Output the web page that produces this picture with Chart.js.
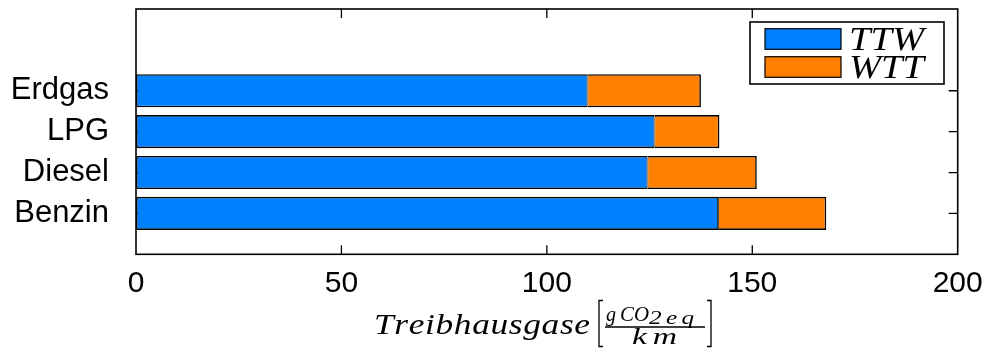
<!DOCTYPE html>
<html>
<head>
<meta charset="utf-8">
<script src="https://cdn.jsdelivr.net/npm/chart.js@4/dist/chart.umd.min.js"></script>
<style>
  html, body { margin: 0; padding: 0; background: #fff; }
  #wrap { width: 987px; height: 349px; }
</style>
</head>
<body>
<div id="wrap"><canvas id="c" width="987" height="349"></canvas></div>
<script>
// Fuel types, bottom to top, and their positions on the value axis
const categories = ['Benzin', 'Diesel', 'LPG', 'Erdgas'];
const positions = [1, 2, 3, 4];
// Greenhouse gas emissions in g CO2eq per km
const ttw = [141.7, 124.5, 126.2, 109.9];   // tank to wheel
const wtt = [26.3, 26.6, 15.8, 27.6];       // well to tank
const xTicks = [0, 50, 100, 150, 200];
const seriesLabels = ['TTW', 'WTT'];
const seriesColors = ['#0080ff', '#ff8000'];
const titleWord = 'Treibhausgase';
const unitNum = ['g', 'CO', '2eq'];
const unitDen = 'km';

const SANS = '"Liberation Sans", Arial, sans-serif';
const SERIF = '"Liberation Serif", "Times New Roman", serif';

// draws text widened to a given width: stretch glyphs a little, then spread them
function fitText(ctx, text, x, y, width, maxScale) {
  const chars = [...text];
  const ws = chars.map(c => ctx.measureText(c).width);
  const sum = ws.reduce((a, b) => a + b, 0);
  const sx = Math.min(width / sum, maxScale || 1.3);
  const gap = chars.length > 1 ? (width - sum * sx) / (chars.length - 1) : 0;
  let cx = x;
  chars.forEach((c, i) => {
    ctx.save();
    ctx.translate(cx, y);
    ctx.scale(sx, 1);
    ctx.fillText(c, 0, 0);
    ctx.restore();
    cx += ws[i] * sx + gap;
  });
}

const framePlugin = {
  id: 'frame',
  beforeDatasetsDraw(chart) {
    const { ctx, chartArea: a, scales } = chart;
    ctx.save();
    ctx.strokeStyle = '#000';
    ctx.lineWidth = 1.3;
    const tl = 9;
    ctx.beginPath();
    xTicks.slice(1, -1).forEach(v => {
      const px = scales.x.getPixelForValue(v);
      ctx.moveTo(px, a.top); ctx.lineTo(px, a.top + tl);
      ctx.moveTo(px, a.bottom); ctx.lineTo(px, a.bottom - tl);
    });
    positions.forEach(v => {
      const py = scales.y.getPixelForValue(v);
      ctx.moveTo(a.left, py); ctx.lineTo(a.left + tl, py);
      ctx.moveTo(a.right, py); ctx.lineTo(a.right - tl, py);
    });
    ctx.stroke();
    ctx.lineWidth = 1.6;
    ctx.strokeRect(a.left, a.top, a.right - a.left, a.bottom - a.top);
    ctx.restore();
  },
  afterDraw(chart) {
    const { ctx } = chart;
    ctx.save();
    // legend box
    const bx = 750, by = 22, bw = 194, bh = 62;
    ctx.fillStyle = '#fff';
    ctx.fillRect(bx, by, bw, bh);
    ctx.strokeStyle = '#000';
    ctx.lineWidth = 1.6;
    ctx.strokeRect(bx, by, bw, bh);
    chart.data.datasets.forEach((ds, i) => {
      const py = i === 0 ? 28.7 : 56.7;
      ctx.fillStyle = ds.backgroundColor;
      ctx.fillRect(765, py, 76, 20.6);
      ctx.lineWidth = 1.2;
      ctx.strokeRect(765, py, 76, 20.6);
      ctx.fillStyle = '#000';
      ctx.font = 'italic 33px ' + SERIF;
      ctx.textBaseline = 'alphabetic';
      fitText(ctx, ds.label, 849, i === 0 ? 50 : 78, 75, 1.2);
    });

    // axis title with unit fraction
    ctx.fillStyle = '#000';
    ctx.textBaseline = 'alphabetic';
    ctx.font = 'italic 29px ' + SERIF;
    fitText(ctx, titleWord, 374, 334, 216, 1.22);
    ctx.font = 'italic 22px ' + SERIF;
    fitText(ctx, unitNum[0], 606, 321, 10, 1.2);
    fitText(ctx, unitNum[1], 620, 321, 29, 1.2);
    ctx.font = 'italic 18px ' + SERIF;
    fitText(ctx, unitNum[2], 649, 324, 45, 1.4);
    ctx.font = 'italic 24px ' + SERIF;
    fitText(ctx, unitDen, 632, 344, 45, 1.4);
    ctx.strokeStyle = '#000';
    ctx.lineWidth = 1.3;
    ctx.beginPath();
    ctx.moveTo(605, 327); ctx.lineTo(705, 327);
    // brackets
    ctx.moveTo(603, 300.5); ctx.lineTo(599, 300.5); ctx.lineTo(599, 346.5); ctx.lineTo(603, 346.5);
    ctx.moveTo(707, 300.5); ctx.lineTo(711, 300.5); ctx.lineTo(711, 346.5); ctx.lineTo(707, 346.5);
    ctx.stroke();
    ctx.restore();
  }
};

new Chart(document.getElementById('c'), {
  type: 'bar',
  data: {
    datasets: [
      {
        label: seriesLabels[0],
        data: positions.map((p, i) => ({ x: ttw[i], y: p })),
        backgroundColor: seriesColors[0],
        borderColor: '#000',
        borderWidth: { top: 1.6, bottom: 1.6, left: 1.6, right: 1 },
        borderSkipped: false
      },
      {
        label: seriesLabels[1],
        data: positions.map((p, i) => ({ x: wtt[i], y: p })),
        backgroundColor: seriesColors[1],
        borderColor: '#000',
        borderWidth: { top: 1.6, bottom: 1.6, left: 0.8, right: 1.6 },
        borderSkipped: false
      }
    ]
  },
  options: {
    indexAxis: 'y',
    responsive: false,
    animation: false,
    devicePixelRatio: 1,
    barPercentage: 0.81,
    categoryPercentage: 1,
    layout: { padding: { top: 9, right: 29.3, left: 0, bottom: 0 } },
    plugins: { legend: { display: false }, tooltip: { enabled: false } },
    scales: {
      x: {
        type: 'linear', min: 0, max: 200, stacked: true, offset: false,
        grid: { display: false, drawTicks: false }, border: { display: false },
        afterBuildTicks: s => { s.ticks = xTicks.map(v => ({ value: v })); },
        ticks: { color: '#000', font: { family: SANS, size: 30 }, padding: 11, maxRotation: 0 },
        afterFit: s => { s.height = 94.7; s.paddingLeft = 0; s.paddingRight = 0; }
      },
      y: {
        type: 'linear', min: 0, max: 6, stacked: true, offset: false,
        grid: { display: false, drawTicks: false, offset: false }, border: { display: false },
        afterBuildTicks: s => { s.ticks = positions.map(v => ({ value: v })); },
        ticks: {
          color: '#000', font: { family: SANS, size: 31 }, padding: 27, autoSkip: false,
          callback: v => categories[positions.indexOf(v)]
        },
        afterFit: s => { s.width = 136; s.paddingTop = 0; s.paddingBottom = 0; }
      }
    }
  },
  plugins: [framePlugin]
});
</script>
</body>
</html>
